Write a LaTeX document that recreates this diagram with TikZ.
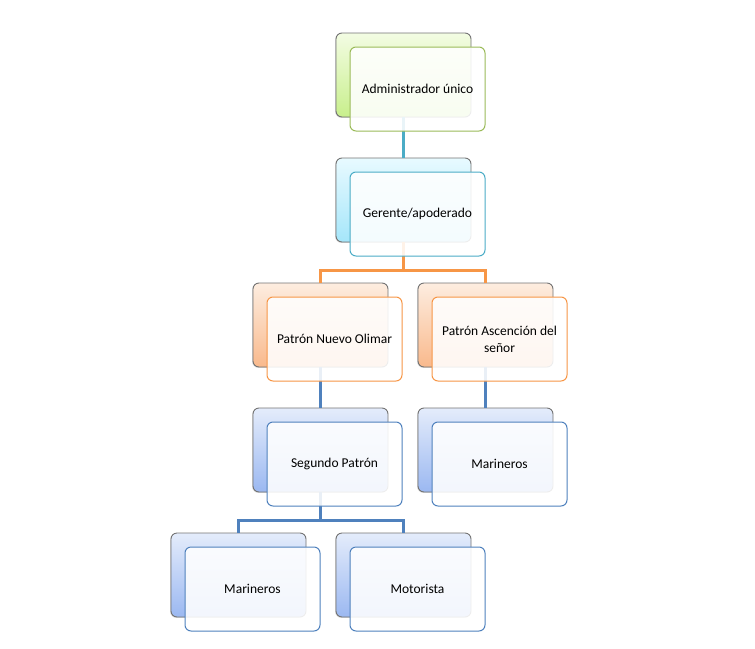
\documentclass[tikz,border=0pt]{standalone}
\usepackage{fontspec}
\setmainfont{Carlito}
\usepackage{tikz}
\usetikzlibrary{shadows}
\definecolor{gtop}{HTML}{F3FCE3}
\definecolor{gbot}{HTML}{C8EF8C}
\definecolor{gline}{HTML}{9BBB59}
\definecolor{ctop}{HTML}{E8FAFF}
\definecolor{cbot}{HTML}{A5E6FA}
\definecolor{cline}{HTML}{4BACC6}
\definecolor{otop}{HTML}{FDEDE0}
\definecolor{obot}{HTML}{F9B98C}
\definecolor{oline}{HTML}{F79646}
\definecolor{btop}{HTML}{E4ECFB}
\definecolor{bbot}{HTML}{9BB8F1}
\definecolor{bline}{HTML}{4F81BD}

\tikzset{
	backbox/.style={draw=black!55, line width=0.9pt, rounded corners=6pt, minimum width=135pt, minimum height=84pt,
		top color=#1top, bottom color=#1bot,
		drop shadow={shadow xshift=-0.8pt, shadow yshift=-0.8pt, opacity=0.3}},
	frontbox/.style={draw=#1line, line width=1pt, rounded corners=6pt, fill=white, fill opacity=0.88, text opacity=1,
		minimum width=135pt, minimum height=84pt, align=center,
		font=\fontsize{13.5}{17}\selectfont},
	conn/.style={line width=3pt, draw=#1line}
}

\begin{document}
\begin{tikzpicture}[x=1pt,y=-1pt]
	\useasboundingbox (0,0) rectangle (755,648);
	
	\node[backbox=g] (adminb) at (403.5,75){};
	\node[backbox=c] (gerenteb) at (403.5,200){};
	\node[backbox=o] (nuevob) at (320.5,325){};
	\node[backbox=o] (ascb) at (485.5,325){};
	\node[backbox=b] (segundob) at (320.5,450){};
	\node[backbox=b] (marderb) at (485.5,450){};
	\node[backbox=b] (marizqb) at (238.5,575){};
	\node[backbox=b] (motorb) at (403.5,575){};
	
	\draw[conn=c] (adminb.south)--(gerenteb.north);
	\draw[conn=o] (gerenteb.south)--++(0,28)-|(nuevob.north);
	\draw[conn=o] (gerenteb.south)--++(0,28)-|(ascb.north);
	\draw[conn=b] (nuevob.south)--(segundob.north);
	\draw[conn=b] (ascb.south)--(marderb.north);
	\draw[conn=b] (segundob.south)--++(0,28)-|(marizqb.north);
	\draw[conn=b] (segundob.south)--++(0,28)-|(motorb.north);
	
	\node[frontbox=g] (admin) at (417.5,89){Administrador único};
	\node[frontbox=c] (gerente) at (417.5,214){Gerente/apoderado};
	\node[frontbox=o] (nuevo) at (334.5,339){Patrón Nuevo Olimar};
	\node[frontbox=o] (asc) at (499.5,339){Patrón Ascención del\\señor};
	\node[frontbox=b] (segundo) at (334.5,464){Segundo Patrón};
	\node[frontbox=b] (marder) at (499.5,464){Marineros};
	\node[frontbox=b] (marizq) at (252.5,589){Marineros};
	\node[frontbox=b] (motor) at (417.5,589){Motorista};
\end{tikzpicture}
\end{document}
